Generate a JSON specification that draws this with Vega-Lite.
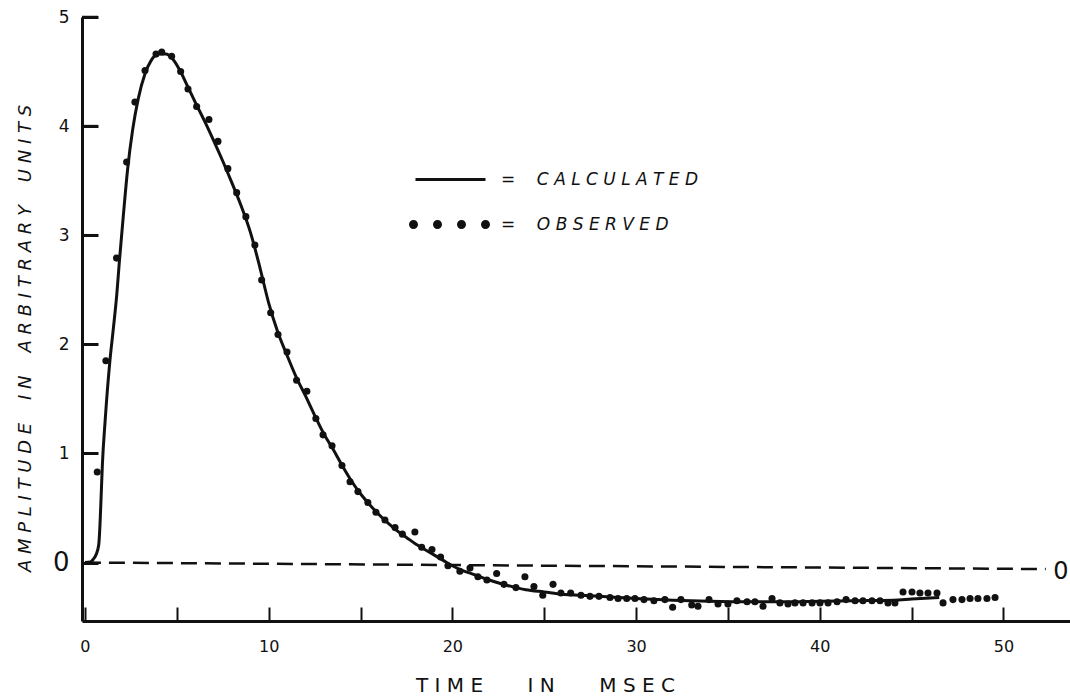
{
  "$schema": "https://vega.github.io/schema/vega-lite/v6.json",
  "width": 988,
  "height": 604,
  "autosize": {"type": "none"},
  "padding": {"left": 82, "top": 17, "right": 0, "bottom": 76},
  "background": "white",
  "config": {
    "view": {"stroke": null},
    "font": "DejaVu Sans",
    "legend": {
      "orient": "none", "legendX": 359, "legendY": 154, "title": null, "padding": 0,
      "symbolSize": 100,
      "labelFont": "DejaVu Sans", "labelFontStyle": "italic", "labelFontSize": 17,
      "labelColor": "#111111", "labelLimit": 500, "labelOffset": 43, "rowPadding": 27
    }
  },
  "datasets": {
    "calc": [
      {"t": 0, "v": 0}, {"t": 0.3, "v": 0.005}, {"t": 0.45, "v": 0.03}, {"t": 0.6, "v": 0.07},
      {"t": 0.75, "v": 0.16}, {"t": 0.82, "v": 0.35}, {"t": 0.88, "v": 0.6}, {"t": 0.95, "v": 0.9},
      {"t": 1.1, "v": 1.3}, {"t": 1.36, "v": 1.85}, {"t": 1.55, "v": 2.15}, {"t": 1.73, "v": 2.45},
      {"t": 1.87, "v": 2.75}, {"t": 2.1, "v": 3.2}, {"t": 2.32, "v": 3.6}, {"t": 2.6, "v": 3.97},
      {"t": 2.9, "v": 4.25}, {"t": 3.27, "v": 4.48}, {"t": 3.6, "v": 4.6}, {"t": 4.0, "v": 4.66},
      {"t": 4.4, "v": 4.66}, {"t": 4.8, "v": 4.61}, {"t": 5.2, "v": 4.5}, {"t": 5.6, "v": 4.36},
      {"t": 6.0, "v": 4.22}, {"t": 6.5, "v": 4.05}, {"t": 7.0, "v": 3.87}, {"t": 7.5, "v": 3.68},
      {"t": 8.0, "v": 3.48}, {"t": 8.5, "v": 3.27}, {"t": 9.0, "v": 3.03}, {"t": 9.5, "v": 2.72},
      {"t": 10.0, "v": 2.38}, {"t": 10.5, "v": 2.11}, {"t": 11.0, "v": 1.9}, {"t": 11.5, "v": 1.7},
      {"t": 12.0, "v": 1.53}, {"t": 12.5, "v": 1.35}, {"t": 13.0, "v": 1.18}, {"t": 13.5, "v": 1.04},
      {"t": 14.0, "v": 0.89}, {"t": 14.5, "v": 0.75}, {"t": 15.0, "v": 0.63}, {"t": 15.5, "v": 0.53},
      {"t": 16.0, "v": 0.44}, {"t": 16.5, "v": 0.36}, {"t": 17.0, "v": 0.29}, {"t": 17.5, "v": 0.23},
      {"t": 18.0, "v": 0.17}, {"t": 18.5, "v": 0.12}, {"t": 19.0, "v": 0.07}, {"t": 19.5, "v": 0.02},
      {"t": 20.0, "v": -0.03}, {"t": 20.5, "v": -0.07}, {"t": 21.0, "v": -0.1}, {"t": 21.5, "v": -0.13},
      {"t": 22.0, "v": -0.16}, {"t": 23.0, "v": -0.21}, {"t": 24.0, "v": -0.25}, {"t": 25.0, "v": -0.27},
      {"t": 26.0, "v": -0.29}, {"t": 27.0, "v": -0.3}, {"t": 28.0, "v": -0.31}, {"t": 29.0, "v": -0.32},
      {"t": 30.0, "v": -0.33}, {"t": 32.0, "v": -0.345}, {"t": 34.0, "v": -0.355}, {"t": 36.0, "v": -0.36},
      {"t": 38.0, "v": -0.36}, {"t": 40.0, "v": -0.355}, {"t": 42.0, "v": -0.35}, {"t": 44.0, "v": -0.345},
      {"t": 45.0, "v": -0.335}, {"t": 46.5, "v": -0.32}
    ],
    "obs": [
      {"t": 0.67, "v": 0.83}, {"t": 1.14, "v": 1.85}, {"t": 1.72, "v": 2.79}, {"t": 2.27, "v": 3.67},
      {"t": 2.72, "v": 4.22}, {"t": 3.27, "v": 4.51}, {"t": 3.87, "v": 4.66}, {"t": 4.18, "v": 4.68},
      {"t": 4.72, "v": 4.64}, {"t": 5.21, "v": 4.5}, {"t": 5.61, "v": 4.34}, {"t": 6.08, "v": 4.18},
      {"t": 6.75, "v": 4.06}, {"t": 7.24, "v": 3.86}, {"t": 7.78, "v": 3.61}, {"t": 8.26, "v": 3.39},
      {"t": 8.76, "v": 3.17}, {"t": 9.25, "v": 2.91}, {"t": 9.62, "v": 2.59}, {"t": 10.11, "v": 2.29},
      {"t": 10.51, "v": 2.09}, {"t": 11.0, "v": 1.93}, {"t": 11.52, "v": 1.67}, {"t": 12.08, "v": 1.57},
      {"t": 12.57, "v": 1.32}, {"t": 12.96, "v": 1.17}, {"t": 13.45, "v": 1.07}, {"t": 13.99, "v": 0.89},
      {"t": 14.43, "v": 0.74}, {"t": 14.86, "v": 0.65}, {"t": 15.4, "v": 0.55}, {"t": 15.84, "v": 0.46},
      {"t": 16.33, "v": 0.39}, {"t": 16.88, "v": 0.32}, {"t": 17.28, "v": 0.26}, {"t": 17.96, "v": 0.28},
      {"t": 18.33, "v": 0.14}, {"t": 18.89, "v": 0.12}, {"t": 19.36, "v": 0.05}, {"t": 19.76, "v": -0.03},
      {"t": 20.41, "v": -0.08}, {"t": 20.96, "v": -0.05}, {"t": 21.39, "v": -0.13}, {"t": 21.88, "v": -0.16},
      {"t": 22.41, "v": -0.1}, {"t": 22.81, "v": -0.2}, {"t": 23.46, "v": -0.23}, {"t": 23.95, "v": -0.13},
      {"t": 24.44, "v": -0.22}, {"t": 24.92, "v": -0.3}, {"t": 25.48, "v": -0.2}, {"t": 25.91, "v": -0.28},
      {"t": 26.44, "v": -0.28}, {"t": 27.0, "v": -0.3}, {"t": 27.49, "v": -0.31}, {"t": 27.98, "v": -0.31},
      {"t": 28.58, "v": -0.32}, {"t": 29.02, "v": -0.33}, {"t": 29.49, "v": -0.33}, {"t": 29.94, "v": -0.33},
      {"t": 30.43, "v": -0.34}, {"t": 30.97, "v": -0.35}, {"t": 31.57, "v": -0.34}, {"t": 31.99, "v": -0.41},
      {"t": 32.44, "v": -0.34}, {"t": 33.03, "v": -0.39}, {"t": 33.37, "v": -0.4}, {"t": 33.97, "v": -0.34},
      {"t": 34.46, "v": -0.38}, {"t": 35.0, "v": -0.38}, {"t": 35.49, "v": -0.35}, {"t": 36.04, "v": -0.36},
      {"t": 36.47, "v": -0.36}, {"t": 36.91, "v": -0.4}, {"t": 37.4, "v": -0.33}, {"t": 37.83, "v": -0.37},
      {"t": 38.27, "v": -0.38}, {"t": 38.65, "v": -0.37}, {"t": 39.09, "v": -0.37}, {"t": 39.58, "v": -0.37},
      {"t": 40.01, "v": -0.37}, {"t": 40.45, "v": -0.37}, {"t": 40.94, "v": -0.36}, {"t": 41.43, "v": -0.34},
      {"t": 41.92, "v": -0.35}, {"t": 42.35, "v": -0.35}, {"t": 42.84, "v": -0.35}, {"t": 43.28, "v": -0.35},
      {"t": 43.71, "v": -0.37}, {"t": 44.09, "v": -0.37}, {"t": 44.53, "v": -0.27}, {"t": 45.02, "v": -0.27},
      {"t": 45.45, "v": -0.28}, {"t": 45.89, "v": -0.28}, {"t": 46.38, "v": -0.28}, {"t": 46.71, "v": -0.37},
      {"t": 47.25, "v": -0.34}, {"t": 47.74, "v": -0.34}, {"t": 48.18, "v": -0.33}, {"t": 48.61, "v": -0.33},
      {"t": 49.1, "v": -0.33}, {"t": 49.54, "v": -0.32}
    ],
    "yticks": [{"v": 1}, {"v": 2}, {"v": 3}, {"v": 4}, {"v": 5}]
  },
  "layer": [
    {
      "data": {"name": "calc"},
      "mark": {"type": "line", "interpolate": "monotone", "strokeWidth": 3},
      "encoding": {
        "x": {
          "field": "t", "type": "quantitative",
          "scale": {"domain": [-0.16, 53.62], "nice": false, "zero": false},
          "axis": {
            "values": [0, 5, 10, 15, 20, 25, 30, 35, 40, 45, 50],
            "labelExpr": "datum.value % 10 === 0 ? datum.label : ''",
            "grid": false,
            "domainColor": "#111111", "domainWidth": 3,
            "tickColor": "#111111", "tickWidth": 2, "tickSize": -14,
            "labelColor": "#111111", "labelFontSize": 16, "labelPadding": 31,
            "labelFlush": false, "labelOverlap": false,
            "title": "T I M E\u00a0\u00a0\u00a0\u00a0\u00a0\u00a0\u00a0I N\u00a0\u00a0\u00a0\u00a0\u00a0\u00a0\u00a0M S E C",
            "titleFontSize": 20, "titleFontWeight": "normal", "titleColor": "#111111",
            "titleX": 463, "titleY": 70, "titleAlign": "center", "titleBaseline": "alphabetic", "titleAnchor": null
          }
        },
        "y": {
          "field": "v", "type": "quantitative",
          "scale": {"domain": [-0.536, 5], "nice": false, "zero": false},
          "axis": {
            "values": [0, 1, 2, 3, 4, 5],
            "format": "d",
            "grid": false,
            "domainColor": "#111111", "domainWidth": 3,
            "tickColor": "#111111", "tickWidth": 3, "tickSize": -16,
            "labelColor": "#111111",
            "labelFontSize": {"condition": {"test": "datum.value === 0", "value": 26}, "value": 17},
            "labelPadding": 29, "labelFlush": false, "labelOverlap": false,
            "title": "A M P L I T U D E\u00a0\u00a0\u00a0\u00a0I N\u00a0\u00a0\u00a0\u00a0A R B I T R A R Y\u00a0\u00a0\u00a0\u00a0U N I T S",
            "titleFontSize": 18, "titleFontWeight": "normal", "titleFontStyle": "italic", "titleColor": "#111111",
            "titleAngle": -90, "titleX": -57, "titleY": 321, "titleAlign": "center", "titleBaseline": "middle", "titleAnchor": null
          }
        },
        "color": {
          "datum": "CALCULATED", "type": "nominal",
          "scale": {"domain": ["CALCULATED", "OBSERVED"], "range": ["#111111", "#111111"]},
          "legend": {
            "labelExpr": "datum.label === 'CALCULATED' ? '=\u00a0\u00a0\u00a0\u00a0C A L C U L A T E D' : '=\u00a0\u00a0\u00a0\u00a0O B S E R V E D'",
            "encode": {
              "symbols": {
                "update": {
                  "shape": {"signal": "datum.value === 'CALCULATED' ? 'M-6.8,0H7.2' : 'M-8.1,0a0.9,0.9 0 1,0 1.8,0a0.9,0.9 0 1,0 -1.8,0M-3.3,0a0.9,0.9 0 1,0 1.8,0a0.9,0.9 0 1,0 -1.8,0M1.5,0a0.9,0.9 0 1,0 1.8,0a0.9,0.9 0 1,0 -1.8,0M6.3,0a0.9,0.9 0 1,0 1.8,0a0.9,0.9 0 1,0 -1.8,0'"},
                  "fill": {"value": "#111111"},
                  "stroke": {"value": "#111111"},
                  "strokeWidth": {"signal": "datum.value === 'CALCULATED' ? 3 : 0"},
                  "size": {"value": 100},
                  "opacity": {"value": 1},
                  "fillOpacity": {"value": 1},
                  "strokeOpacity": {"value": 1}
                }
              }
            }
          }
        }
      }
    },
    {
      "data": {"name": "yticks"},
      "mark": {"type": "rule", "strokeWidth": 2.5, "color": "#111111"},
      "encoding": {
        "x": {"datum": -0.16, "type": "quantitative"},
        "x2": {"datum": 0.71},
        "y": {"field": "v", "type": "quantitative"}
      }
    },
    {
      "data": {"values": [{}]},
      "mark": {"type": "rule", "strokeDash": [16, 8], "strokeWidth": 2.5, "color": "#111111"},
      "encoding": {
        "x": {"datum": 0, "type": "quantitative"},
        "x2": {"datum": 52.3},
        "y": {"datum": 0, "type": "quantitative"},
        "y2": {"datum": -0.06}
      }
    },
    {
      "data": {"name": "obs"},
      "mark": {"type": "circle", "size": 50, "opacity": 1},
      "encoding": {
        "x": {"field": "t", "type": "quantitative"},
        "y": {"field": "v", "type": "quantitative"},
        "color": {
          "datum": "OBSERVED", "type": "nominal",
          "legend": {
            "labelExpr": "datum.label === 'CALCULATED' ? '=\u00a0\u00a0\u00a0\u00a0C A L C U L A T E D' : '=\u00a0\u00a0\u00a0\u00a0O B S E R V E D'",
            "encode": {
              "symbols": {
                "update": {
                  "shape": {"signal": "datum.value === 'CALCULATED' ? 'M-6.8,0H7.2' : 'M-8.1,0a0.9,0.9 0 1,0 1.8,0a0.9,0.9 0 1,0 -1.8,0M-3.3,0a0.9,0.9 0 1,0 1.8,0a0.9,0.9 0 1,0 -1.8,0M1.5,0a0.9,0.9 0 1,0 1.8,0a0.9,0.9 0 1,0 -1.8,0M6.3,0a0.9,0.9 0 1,0 1.8,0a0.9,0.9 0 1,0 -1.8,0'"},
                  "fill": {"value": "#111111"},
                  "stroke": {"value": "#111111"},
                  "strokeWidth": {"signal": "datum.value === 'CALCULATED' ? 3 : 0"},
                  "size": {"value": 100},
                  "opacity": {"value": 1},
                  "fillOpacity": {"value": 1},
                  "strokeOpacity": {"value": 1}
                }
              }
            }
          }
        }
      }
    },
    {
      "data": {"values": [{}]},
      "mark": {"type": "text", "fontSize": 24, "align": "center", "baseline": "middle", "color": "#111111"},
      "encoding": {
        "x": {"datum": 53.13, "type": "quantitative"},
        "y": {"datum": -0.087, "type": "quantitative"},
        "text": {"value": "0"}
      }
    }
  ]
}
